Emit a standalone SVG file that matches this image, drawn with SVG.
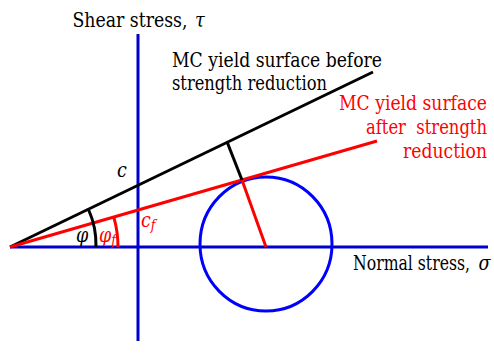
<svg xmlns="http://www.w3.org/2000/svg" width="494" height="355" viewBox="0 0 494 355">
<style>
.t{font-size:19.5px;fill:#000}
.r{fill:#ff0000}
.i{font-style:italic}
.ax{stroke:#0000cc;stroke-width:3;fill:none}
.bk{stroke:#000;stroke-width:3;fill:none}
.rd{stroke:#ff0000;stroke-width:3;fill:none}
</style>
<rect width="494" height="355" fill="#fff"/>
<g id="axes">
<line class="ax" x1="10" y1="247" x2="488" y2="247"/>
<line class="ax" x1="138" y1="34" x2="138" y2="341"/>
</g>
<g id="mohr-circle">
<ellipse cx="266" cy="244" rx="66" ry="67" fill="none" stroke="#0000ff" stroke-width="3"/>
</g>
<g id="connectors">
<line class="bk" x1="10" y1="247" x2="373" y2="72"/>
<line class="rd" x1="10" y1="247" x2="377" y2="141"/>
<line class="bk" x1="227.5" y1="143" x2="242" y2="180" stroke-width="2.5"/>
<line class="rd" x1="242" y1="180" x2="266" y2="247"/>
<path class="bk" d="M88.5 209.5 A86 86 0 0 1 96 247"/>
<path class="rd" d="M113.8 217.1 A108 108 0 0 1 118 247"/>
</g>
<g id="labels" font-family="'DejaVu Serif Condensed', 'DejaVu Serif', serif" font-stretch="condensed">
<text class="t" x="187.5" y="27" font-size="20.5" text-anchor="end" textLength="115" lengthAdjust="spacingAndGlyphs">Shear stress,</text>
<text class="t i" x="195" y="27" font-size="20">τ</text>
<text class="t" x="172" y="66.5" textLength="210" lengthAdjust="spacingAndGlyphs">MC yield surface before</text>
<text class="t" x="172" y="89.5" textLength="155" lengthAdjust="spacingAndGlyphs">strength reduction</text>
<text class="t r" x="487" y="110" text-anchor="end" textLength="148" lengthAdjust="spacingAndGlyphs">MC yield surface</text>
<text class="t r" x="487" y="134" text-anchor="end" font-size="19" textLength="121" lengthAdjust="spacingAndGlyphs" xml:space="preserve">after  strength</text>
<text class="t r" x="487" y="158" text-anchor="end" textLength="84" lengthAdjust="spacingAndGlyphs">reduction</text>
<text class="t" x="470" y="270" text-anchor="end" textLength="117" lengthAdjust="spacingAndGlyphs">Normal stress,</text>
<text class="t i" x="478.5" y="270" font-size="19">σ</text>
<text class="t i" x="117" y="177" font-size="19">c</text>
<text class="t i" x="76" y="242" font-size="18">φ</text>
<text class="t r i" x="99" y="242" font-size="18">φ<tspan font-size="14" dy="3">f</tspan></text>
<text class="t r i" x="141" y="227" font-size="19">c<tspan font-size="14" dy="3">f</tspan></text>
</g>
</svg>
